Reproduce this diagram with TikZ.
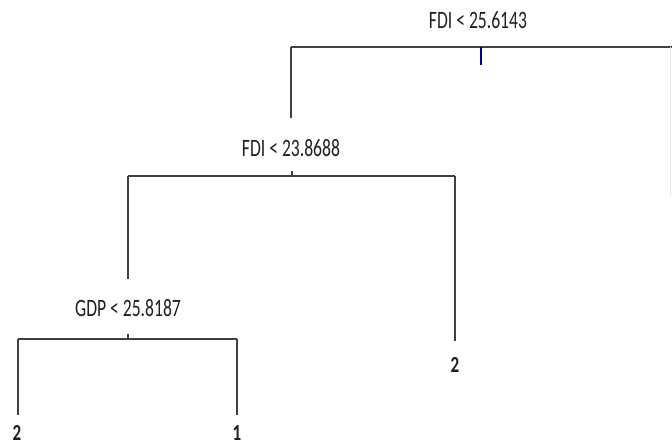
\documentclass[tikz,border=0pt]{standalone}
\usepackage{fontspec}
\setmainfont{Carlito}
\begin{document}
\begin{tikzpicture}[x=1pt,y=-1pt,
  edge/.style={draw=black!75,line width=2pt,line cap=butt},
  lab/.style={text=black!88,font=\fontsize{20}{24}\selectfont,inner sep=0pt,transform shape,xscale=0.88,yscale=1.25},
  leaf/.style={text=black!88,font=\fontsize{20}{24}\selectfont\bfseries,inner sep=0pt,transform shape,xscale=0.85,yscale=1.15}]
\useasboundingbox (0,0) rectangle (672,447);
% split nodes (coordinates)
\coordinate (s1) at (481,47);
\coordinate (s1l) at (291,47);
\coordinate (s1r) at (672,47);
\coordinate (e1) at (291,118);
\coordinate (s2) at (292,176);
\coordinate (s2l) at (128,176);
\coordinate (s2r) at (455,176);
\coordinate (e2) at (128,279);
\coordinate (s3) at (128,339);
\coordinate (s3l) at (18,339);
\coordinate (s3r) at (237,339);
% labels
\node[lab] (t1) at (478,20) {FDI < 25.6143};
\node[lab] (t2) at (291,148) {FDI < 23.8688};
\node[lab] (t3) at (128,308) {GDP < 25.8187};
% leaves
\node[leaf] (l1) at (455,365) {2};
\node[leaf] (l2) at (17,433) {2};
\node[leaf] (l3) at (237,433) {1};
% top split
\draw[edge] (s1l) -- (s1r);
\draw[draw=blue!55!black,line width=1.5pt] (s1) -- ++(0,18);
\draw[edge] (s1l) -- (e1);
\coordinate (rr) at (670.5,47);
\draw[draw=black!8,line width=1pt] (rr) -- ++(0,150);
% second split
\draw[edge] (s2l) -- (s2r);
\draw[edge] (s2) -- ++(0,-5);
\draw[edge] (s2l) -- (e2);
\draw[edge] (s2r) -- (455,341);
% third split
\draw[edge] (s3l) -- (s3r);
\draw[edge] (s3) -- ++(0,-5);
\draw[edge] (s3l) -- (18,415);
\draw[edge] (s3r) -- (237,415);
\end{tikzpicture}
\end{document}
